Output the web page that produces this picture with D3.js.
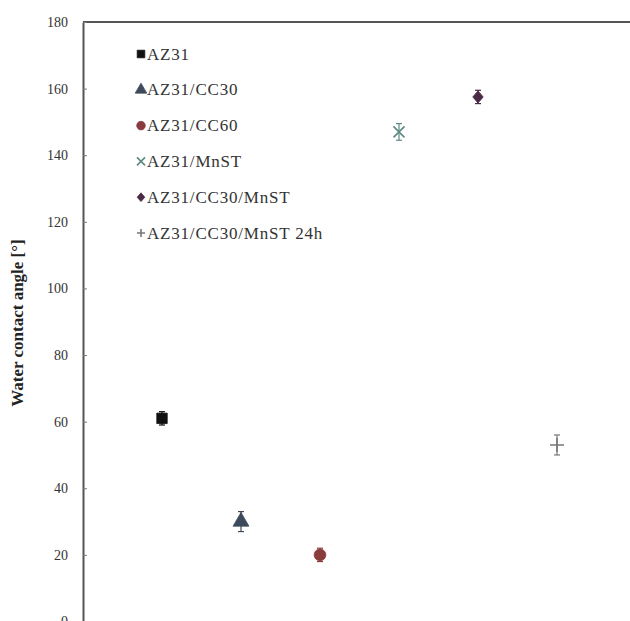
<!DOCTYPE html>
<html>
<head>
<meta charset="utf-8">
<script src="https://cdn.jsdelivr.net/npm/d3@7"></script>
<style>
  body { margin: 0; background: #fff; }
  svg { display: block; font-family: "Liberation Serif", "Times New Roman", serif; }
</style>
</head>
<body>
<svg id="chart" width="630" height="621"></svg>
<script>
// Water contact angle of each sample (degrees) with its error
const samples = ["AZ31", "AZ31/CC30", "AZ31/CC60", "AZ31/MnST", "AZ31/CC30/MnST", "AZ31/CC30/MnST 24h"];
const angles  = [61, 30, 20, 147, 157.5, 53];
const errors  = [2, 3, 2, 2.5, 2, 3];
const symbols = ["square", "triangle", "circle", "cross", "diamond", "plus"];
const colors  = ["#111111", "#3d4a5c", "#8a3b3e", "#5e8a84", "#4b2a44", "#777777"];
const yTicks  = [0, 20, 40, 60, 80, 100, 120, 140, 160, 180];

const svg = d3.select("#chart");
const W = 630;
const plotLeft = 83, plotTop = 22, plotBottom = 621.5;

const x = d3.scaleLinear().domain([0, 7]).range([plotLeft, plotLeft + 7 * 79]);
const y = d3.scaleLinear().domain([0, 180]).range([plotBottom, plotTop]);

// top frame line
svg.append("line")
  .attr("x1", plotLeft).attr("x2", W).attr("y1", plotTop).attr("y2", plotTop)
  .attr("stroke", "#555").attr("stroke-width", 2);

// left axis with small inward ticks
const yAxis = svg.append("g")
  .attr("transform", `translate(${plotLeft},0)`)
  .call(d3.axisLeft(y).tickValues(yTicks).tickSizeInner(-4).tickSizeOuter(0).tickPadding(15));
yAxis.select(".domain").attr("stroke", "#555").attr("stroke-width", 2);
yAxis.selectAll(".tick line").attr("stroke", "#777");
yAxis.selectAll(".tick text")
  .attr("font-family", "Liberation Serif, serif")
  .attr("font-size", 14).attr("fill", "#333");

// axis title
svg.append("text")
  .attr("transform", `translate(23,323) rotate(-90)`)
  .attr("text-anchor", "middle")
  .attr("font-size", 17).attr("font-weight", "bold").attr("fill", "#222")
  .text("Water contact angle [°]");

function symbolPath(kind, size) {
  const map = { square: d3.symbolSquare, triangle: d3.symbolTriangle, circle: d3.symbolCircle };
  const s = size / 2;
  if (kind === "cross") return `M${-s},${-s}L${s},${s}M${-s},${s}L${s},${-s}`;
  if (kind === "plus") return `M${-s},0L${s},0M0,${-s}L0,${s}`;
  if (kind === "diamond") return `M0,${-s * 1.1}L${s * 0.95},0L0,${s * 1.1}L${-s * 0.95},0Z`;
  return d3.symbol().type(map[kind]).size(size * size * 0.9)();
}
function drawSymbol(g, kind, color, size) {
  const line = kind === "cross" || kind === "plus";
  g.append("path")
    .attr("d", symbolPath(kind, size))
    .attr("fill", line ? "none" : color)
    .attr("stroke", color)
    .attr("stroke-width", line ? 1.6 : 0.8);
}

// points with error bars
const data = samples.map((s, i) => ({ s, i, v: angles[i], e: errors[i] }));
const pts = svg.append("g").selectAll("g").data(data).join("g")
  .attr("transform", d => `translate(${x(d.i + 1)},0)`);
pts.append("line")
  .attr("x1", 0).attr("x2", 0)
  .attr("y1", d => y(d.v - d.e)).attr("y2", d => y(d.v + d.e))
  .attr("stroke", d => colors[d.i]).attr("stroke-width", 1.2);
pts.each(function (d) {
  [d.v - d.e, d.v + d.e].forEach(t => {
    d3.select(this).append("line")
      .attr("x1", -3).attr("x2", 3).attr("y1", y(t)).attr("y2", y(t))
      .attr("stroke", colors[d.i]).attr("stroke-width", 1.2);
  });
  const g = d3.select(this).append("g").attr("transform", `translate(0,${y(d.v)})`);
  drawSymbol(g, symbols[d.i], colors[d.i], symbols[d.i] === "plus" ? 14 : 11);
});

// legend
const legend = svg.append("g").selectAll("g").data(samples).join("g")
  .attr("transform", (d, i) => `translate(141,${54 + i * 35.8})`);
legend.each(function (d, i) {
  const g = d3.select(this).append("g");
  drawSymbol(g, symbols[i], colors[i], 8);
});
legend.append("text")
  .attr("x", 6).attr("y", 5.5)
  .attr("font-size", 17).attr("letter-spacing", 0.8).attr("fill", "#333")
  .text(d => d);
</script>
</body>
</html>
